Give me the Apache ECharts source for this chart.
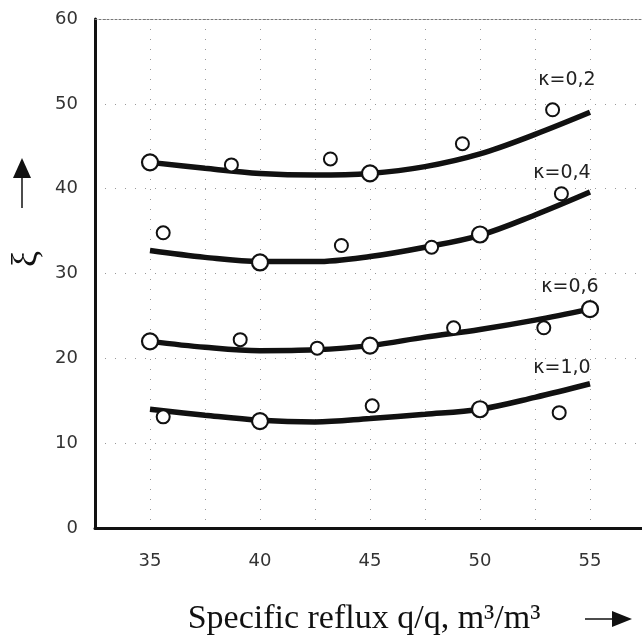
<!DOCTYPE html>
<html>
<head>
<meta charset="utf-8">
<script src="https://cdn.jsdelivr.net/npm/echarts@6/dist/echarts.min.js"></script>
<style>html,body{margin:0;padding:0;background:#fff}#c{width:642px;height:636px}</style>
</head>
<body>
<div id="c"></div>
<script>
// ---- data ----
const curveX = [35, 37.5, 40, 42.5, 45, 47.5, 50, 52.5, 55];
const curveK02 = [43.1, 42.4, 41.8, 41.6, 41.8, 42.6, 44.1, 46.4, 49.0];
const curveK04 = [32.7, 31.9, 31.4, 31.4, 32.0, 33.1, 34.5, 36.9, 39.6];
const curveK06 = [22.0, 21.3, 20.9, 21.0, 21.5, 22.5, 23.4, 24.5, 25.8];
const curveK10 = [14.0, 13.3, 12.7, 12.5, 12.9, 13.4, 14.0, 15.4, 17.0];

// measured points lying on the curves (ringed) and scattered points
const ringK02 = [[35, 43.1], [45, 41.8]];
const openK02 = [[38.7, 42.8], [43.2, 43.5], [49.2, 45.3], [53.3, 49.3]];
const ringK04 = [[40, 31.3], [50, 34.6]];
const openK04 = [[35.6, 34.8], [43.7, 33.3], [47.8, 33.1], [53.7, 39.4]];
const ringK06 = [[35, 22.0], [45, 21.5], [55, 25.8]];
const openK06 = [[39.1, 22.2], [42.6, 21.2], [48.8, 23.6], [52.9, 23.6]];
const ringK10 = [[40, 12.6], [50, 14.0]];
const openK10 = [[35.6, 13.1], [45.1, 14.4], [53.6, 13.6]];

const seriesNames = ['κ=0,2', 'κ=0,4', 'κ=0,6', 'κ=1,0'];
const xTickLabels = [35, 40, 45, 50, 55];
const yTickLabels = [0, 10, 20, 30, 40, 50, 60];
const xTitle = 'Specific reflux q/q, m³/m³';
const yTitle = 'ξ';

// ---- chart ----
const chart = echarts.init(document.getElementById('c'), null, {renderer: 'canvas'});
const curves = [curveK02, curveK04, curveK06, curveK10];
const rings = [ringK02, ringK04, ringK06, ringK10];
const opens = [openK02, openK04, openK06, openK10];
const labelOffsets = [[-23, -32], [-28, -19], [-20, -22], [-28, -16]];

const series = [];
curves.forEach((c, i) => {
  series.push({
    type: 'line', name: seriesNames[i], smooth: 0.35, showSymbol: false, symbol: 'none',
    data: curveX.map((x, j) => [x, c[j]]),
    lineStyle: {color: '#111', width: 5.5},
    z: 2,
    endLabel: {
      show: true, formatter: seriesNames[i], align: 'center', verticalAlign: 'middle',
      distance: 0, offset: labelOffsets[i],
      fontFamily: 'DejaVu Sans', fontSize: 19, color: '#222'
    }
  });
  series.push({
    type: 'scatter', data: opens[i], symbol: 'circle', symbolSize: 13, z: 4,
    itemStyle: {color: '#fff', borderColor: '#111', borderWidth: 2, opacity: 1}
  });
  series.push({
    type: 'scatter', data: rings[i], symbol: 'circle', symbolSize: 16, z: 5,
    itemStyle: {color: '#fff', borderColor: '#111', borderWidth: 2.2, opacity: 1}
  });
});

chart.setOption({
  animation: false,
  backgroundColor: '#fff',
  grid: {left: 95, right: -3, top: 19, bottom: 108, containLabel: false, outerBoundsMode: 'none'},
  xAxis: [{
    type: 'value', min: 32.5, max: 57.5, interval: 2.5,
    axisLine: {show: true, lineStyle: {color: '#111', width: 3}},
    axisTick: {show: false},
    axisLabel: {
      margin: 24, fontFamily: 'DejaVu Sans', fontSize: 18, color: '#333',
      formatter: v => xTickLabels.indexOf(v) >= 0 ? String(v) : ''
    },
    splitLine: {show: true, lineStyle: {color: '#999', width: 1, type: [1, 9]}},
    name: xTitle, nameLocation: 'middle', nameGap: 74,
    nameTextStyle: {fontFamily: 'Liberation Serif', fontSize: 34, color: '#111', padding: [0, 12, 0, 0]}
  }, {
    type: 'value', position: 'top', min: 32.5, max: 57.5, interval: 2.5,
    axisLine: {show: true, lineStyle: {color: '#777', width: 1, type: [2, 2]}},
    axisTick: {show: false}, axisLabel: {show: false}, splitLine: {show: false}
  }],
  yAxis: {
    type: 'value', min: 0, max: 60, interval: 10,
    axisLine: {show: true, lineStyle: {color: '#111', width: 3}},
    axisTick: {show: false},
    axisLabel: {
      margin: 17, fontFamily: 'DejaVu Sans', fontSize: 18, color: '#333',
      formatter: v => yTickLabels.indexOf(v) >= 0 ? String(v) : ''
    },
    splitLine: {show: true, lineStyle: {color: '#999', width: 1, type: [1, 9]}}
  },
  graphic: [
    {type: 'text', x: 27, y: 259, rotation: Math.PI / 2,
      style: {text: yTitle, fontFamily: 'Liberation Serif', fontSize: 36, fill: '#111', align: 'center', verticalAlign: 'middle'}},
    {type: 'polygon', shape: {points: [[22, 158], [13, 178], [31, 178]]}, style: {fill: '#111'}},
    {type: 'line', shape: {x1: 22, y1: 177, x2: 22, y2: 208}, style: {stroke: '#111', lineWidth: 1.5}},
    {type: 'line', shape: {x1: 585, y1: 619, x2: 615, y2: 619}, style: {stroke: '#111', lineWidth: 1.5}},
    {type: 'polygon', shape: {points: [[632, 619], [612, 611], [612, 627]]}, style: {fill: '#111'}}
  ],
  series: series
});
</script>
</body>
</html>
